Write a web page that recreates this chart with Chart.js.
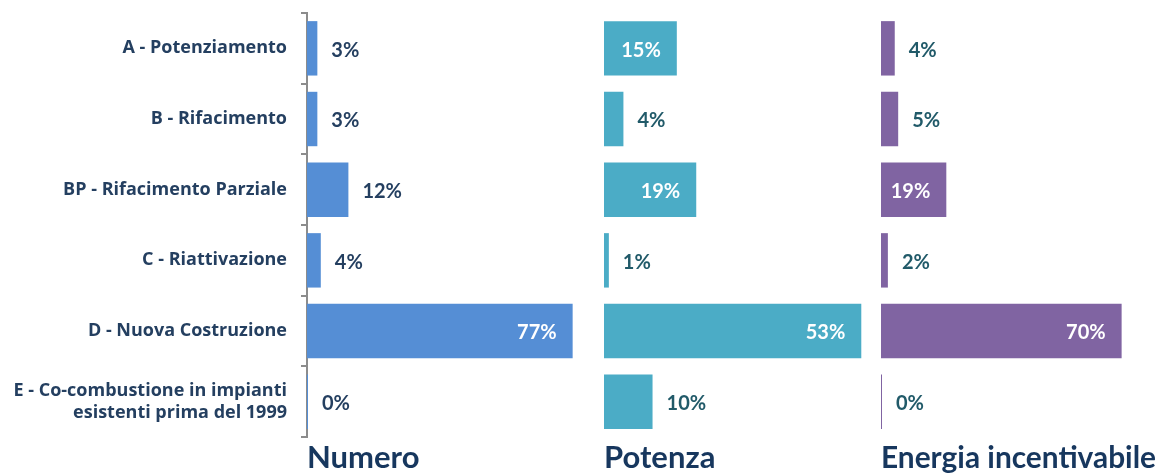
<!DOCTYPE html>
<html>
<head>
<meta charset="utf-8">
<script src="https://cdn.jsdelivr.net/npm/chart.js@4.4.1/dist/chart.umd.min.js"></script>
<style>
  html, body { margin: 0; padding: 0; background: #fff; }
  #wrap { position: relative; width: 1166px; height: 476px; overflow: hidden; }
  .panel { position: absolute; top: 0; height: 476px; }
</style>
</head>
<body>
<div id="wrap">
  <div class="panel" style="left:0;width:590px"><canvas id="numeroChart"></canvas></div>
  <div class="panel" style="left:597px;width:274px"><canvas id="potenzaChart"></canvas></div>
  <div class="panel" style="left:874px;width:292px"><canvas id="energiaChart"></canvas></div>
</div>
<script>
// categorie (tipologia di intervento)
const categories = [
  'A - Potenziamento',
  'B - Rifacimento',
  'BP - Rifacimento Parziale',
  'C - Riattivazione',
  'D - Nuova Costruzione',
  ['E - Co-combustione in impianti', 'esistenti prima del 1999']
];

// percentuali per pannello
const numero = [3, 3, 12, 4, 77, 0];
const potenza = [15, 4, 19, 1, 53, 10];
const energia = [4, 5, 19, 2, 70, 0];

const titoli = ['Numero', 'Potenza', 'Energia incentivabile'];

// etichette dei valori (dentro la barra se grande, fuori se piccola)
const valueLabels = {
  id: 'valueLabels',
  afterDatasetsDraw(chart, args, opts) {
    const ctx = chart.ctx;
    const meta = chart.getDatasetMeta(0);
    const values = chart.data.datasets[0].data;
    ctx.save();
    ctx.font = 'bold 20px Lato';
    ctx.textBaseline = 'middle';
    meta.data.forEach((bar, i) => {
      const v = values[i];
      const txt = v + '%';
      if (v >= opts.inside) {
        ctx.fillStyle = '#ffffff';
        ctx.textAlign = 'right';
        ctx.fillText(txt, bar.x - 16, bar.y + 2);
      } else {
        ctx.fillStyle = opts.color;
        ctx.textAlign = 'left';
        ctx.fillText(txt, bar.x + 14, bar.y + 2);
      }
    });
    ctx.restore();
  }
};

function creaGrafico(id, valori, colore, titolo, max, conAsse, padLeft, padRight, coloreEtichetta) {
  return new Chart(document.getElementById(id), {
    type: 'bar',
    data: {
      labels: categories,
      datasets: [{
        data: valori,
        backgroundColor: colore,
        barPercentage: 0.77,
        categoryPercentage: 1,
        minBarLength: 1
      }]
    },
    options: {
      indexAxis: 'y',
      responsive: true,
      maintainAspectRatio: false,
      animation: false,
      layout: { padding: { top: 13, left: padLeft, right: padRight, bottom: 0 } },
      plugins: {
        legend: { display: false },
        tooltip: { enabled: false },
        valueLabels: { inside: 15, color: coloreEtichetta }
      },
      scales: {
        y: {
          display: conAsse,
          grid: {
            drawOnChartArea: false,
            drawTicks: true,
            tickLength: 6,
            color: '#8c8c8c',
            lineWidth: 2
          },
          border: { display: true, color: '#8c8c8c', width: 2 },
          ticks: {
            padding: 14,
            color: '#243F60',
            font: { family: 'Open Sans', weight: 'bold', size: 18 }
          },
          afterFit(scale) {
            scale.paddingTop = 0;
            scale.paddingBottom = 0;
            if (conAsse) scale.width = 307;
          }
        },
        x: {
          min: 0,
          max: max,
          grid: { display: false, drawTicks: false },
          border: { display: false },
          ticks: { display: false },
          title: {
            display: true,
            text: titolo,
            align: 'start',
            color: '#17375E',
            font: { family: 'Lato', weight: 'bold', size: 31, lineHeight: 1.16 },
            padding: { top: 3, bottom: 0 }
          }
        }
      }
    },
    plugins: [valueLabels]
  });
}

creaGrafico('numeroChart', numero, '#558ED5', titoli[0], 80, true, 0, 7, '#243F60');
creaGrafico('potenzaChart', potenza, '#4BACC6', titoli[1], 55, false, 7, 0, '#215A69');
creaGrafico('energiaChart', energia, '#8064A2', titoli[2], 80, false, 7, 10, '#215A69');
</script>
</body>
</html>
